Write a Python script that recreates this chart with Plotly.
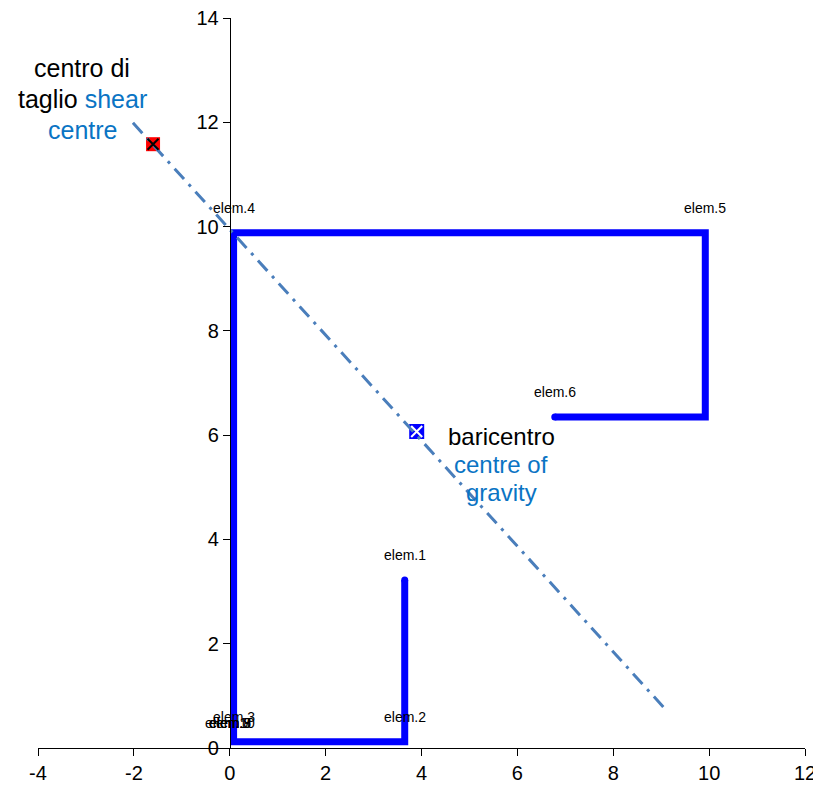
import plotly.graph_objects as go

# Section polyline (elements)
sec_x = [3.65, 3.65, 0.08, 0.08, 9.92, 9.92, 6.78]
sec_y = [3.22, 0.12, 0.12, 9.88, 9.88, 6.35, 6.35]

# Element labels
lbl_x = [3.65, 3.65, 0.08, 0.08, 9.92, 6.78, 0, 0, 0, 0]
lbl_y = [3.22, 0.12, 0.12, 9.88, 9.88, 6.35, 0, 0, 0, 0]
lbl_t = ["elem.1", "elem.2", "elem.3", "elem.4", "elem.5", "elem.6",
         "elem.7", "elem.8", "elem.9", "elem.10"]

# Principal axis line (dash-dot)
axis_x = [-2.02, 9.14]
axis_y = [11.99, 0.69]

# Shear centre and centre of gravity
shear_x = [-1.6]
shear_y = [11.58]
cg_x = [3.9]
cg_y = [6.07]

x_ticks = [-4, -2, 0, 2, 4, 6, 8, 10, 12]
x_tick_text = ["-4", "-2", "0", "2", "4", "6", "8", "10", "12"]
y_ticks = [0, 2, 4, 6, 8, 10, 12, 14]
y_tick_text = ["0", "2", "4", "6", "8", "10", "12", "14"]

BLUE_TXT = "#0a74c4"
FONT = "Liberation Sans, Arial"

fig = go.Figure()

fig.add_trace(go.Scatter(x=sec_x, y=sec_y, mode="lines",
                         line=dict(color="#0000ff", width=7),
                         hoverinfo="skip"))
# round caps at the free ends of the section line
fig.add_trace(go.Scatter(x=[sec_x[0], sec_x[-1]], y=[sec_y[0], sec_y[-1]],
                         mode="markers",
                         marker=dict(symbol="circle", size=7, color="#0000ff",
                                     line=dict(width=0)),
                         hoverinfo="skip"))

fig.add_trace(go.Scatter(x=shear_x, y=shear_y, mode="markers",
                         marker=dict(symbol="square", size=14, color="#ff0000",
                                     line=dict(width=0))))
fig.add_trace(go.Scatter(x=cg_x, y=cg_y, mode="markers",
                         marker=dict(symbol="square", size=15, color="#0000ff",
                                     line=dict(width=0))))

fig.add_trace(go.Scatter(x=axis_x, y=axis_y, mode="lines",
                         line=dict(color="#4a7ebb", width=3,
                                   dash="14px,7px,3px,7px")))

fig.add_trace(go.Scatter(x=shear_x, y=shear_y, mode="markers",
                         marker=dict(symbol="x-thin", size=11,
                                     line=dict(width=2, color="black"))))
fig.add_trace(go.Scatter(x=cg_x, y=cg_y, mode="markers",
                         marker=dict(symbol="x-thin", size=11,
                                     line=dict(width=2, color="white"))))

annotations = []
for x, y, t in zip(lbl_x, lbl_y, lbl_t):
    annotations.append(dict(x=x, y=y, xref="x", yref="y", text=t,
                            showarrow=False, yshift=25,
                            font=dict(size=14, color="black", family=FONT)))

shear_lines = ["centro di",
               "taglio <span style='color:%s'>shear</span>" % BLUE_TXT,
               "<span style='color:%s'>centre</span>" % BLUE_TXT]
for i, t in enumerate(shear_lines):
    annotations.append(dict(x=-3.08, y=12.45, xref="x", yref="y",
                            showarrow=False, text=t, yshift=31 - 31 * i,
                            font=dict(size=25, color="black", family=FONT)))

cg_lines = ["baricentro",
            "<span style='color:%s'>centre of</span>" % BLUE_TXT,
            "<span style='color:%s'>gravity</span>" % BLUE_TXT]
for i, t in enumerate(cg_lines):
    annotations.append(dict(x=5.66, y=5.43, xref="x", yref="y",
                            showarrow=False, text=t, yshift=28 - 28 * i,
                            font=dict(size=24, color="black", family=FONT)))

fig.update_layout(
    width=813, height=779,
    margin=dict(l=30, r=16, t=10, b=39),
    paper_bgcolor="white", plot_bgcolor="white",
    showlegend=False,
    annotations=annotations,
    font=dict(family=FONT, size=20, color="black"),
    xaxis=dict(range=[-4, 12], tickvals=x_ticks, ticktext=x_tick_text,
               showgrid=False, automargin=False, ticklabeloverflow="allow",
               zeroline=False, showline=True, linecolor="black", linewidth=1,
               ticks="outside", ticklen=7, tickcolor="black",
               tickfont=dict(size=20), domain=[0, 1]),
    yaxis=dict(range=[0, 14], tickvals=y_ticks, ticktext=y_tick_text,
               showgrid=False, automargin=False, ticklabeloverflow="allow",
               zeroline=False, showline=True, linecolor="black", linewidth=1,
               ticks="outside", ticklen=7, tickcolor="black",
               tickfont=dict(size=20), anchor="free", position=0.25),
)

fig.write_html("out.html")
